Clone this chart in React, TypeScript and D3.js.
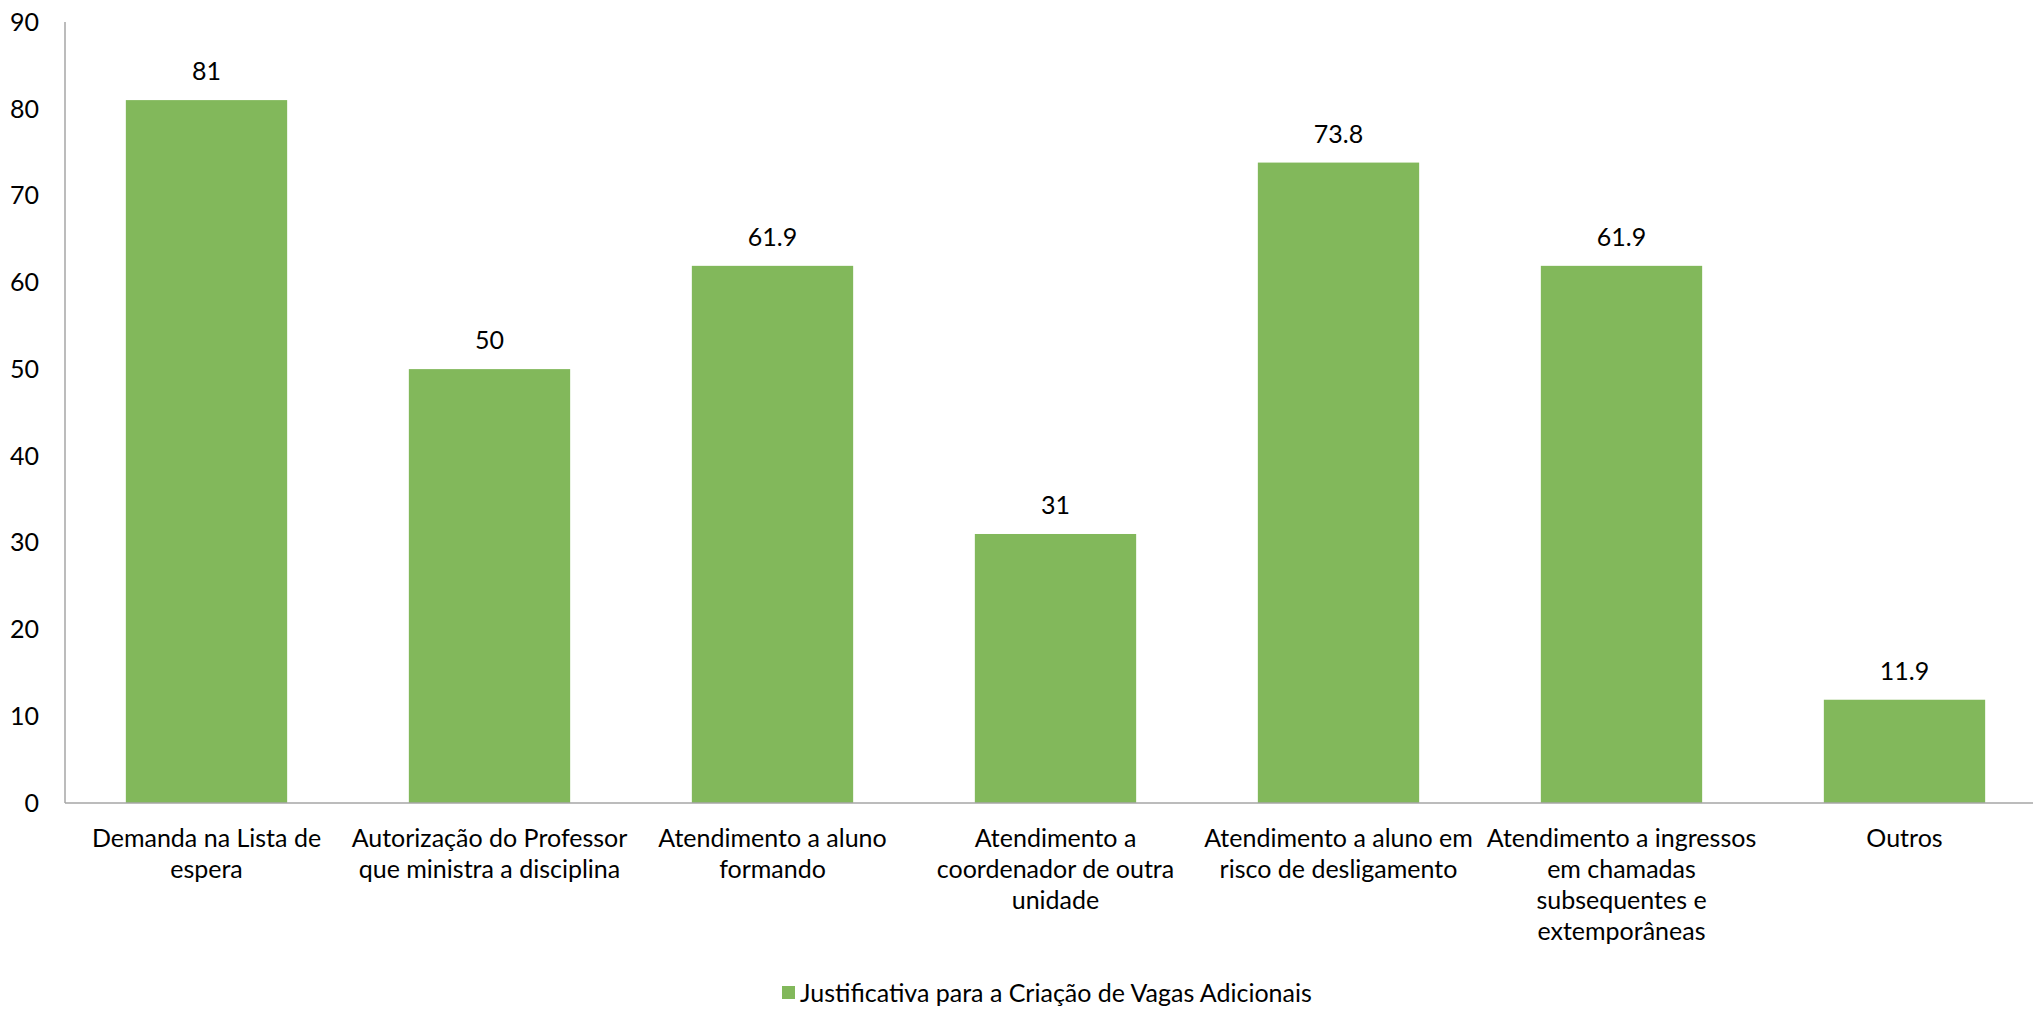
import { useEffect, useRef } from "react";
import * as d3 from "d3";

const categories = [
  "Demanda na Lista de\nespera",
  "Autorização do Professor\nque ministra a disciplina",
  "Atendimento a aluno\nformando",
  "Atendimento a\ncoordenador de outra\nunidade",
  "Atendimento a aluno em\nrisco de desligamento",
  "Atendimento a ingressos\nem chamadas\nsubsequentes e\nextemporâneas",
  "Outros",
];
const values = [81, 50, 61.9, 31, 73.8, 61.9, 11.9];
const yTicks = [0, 10, 20, 30, 40, 50, 60, 70, 80, 90];
const seriesName = "Justificativa para a Criação de Vagas Adicionais";

const App = () => {
  const ref = useRef<SVGSVGElement>(null);

  useEffect(() => {
    document.body.style.margin = "0";
    if (!ref.current) return;
    const svg = d3.select(ref.current);
    svg.selectAll("*").remove();

    const width = 2033;
    const height = 1010;
    const font = "Lato, 'Open Sans', sans-serif";
    const fontSize = 25;
    const barColor = "#82B85B";
    const axisColor = "#A6A6A6";

    const left = 65;
    const right = 2046;
    const top = 22;
    const bottom = 803;

    svg.attr("width", width).attr("height", height);

    const x = d3
      .scaleBand<number>()
      .domain(d3.range(categories.length))
      .range([left, right])
      .paddingInner(0.43)
      .paddingOuter(0.215);

    const y = d3.scaleLinear().domain([0, 90]).range([bottom, top]);

    // bars
    svg
      .append("g")
      .selectAll("rect")
      .data(values)
      .enter()
      .append("rect")
      .attr("x", (_d, i) => x(i)!)
      .attr("y", (d) => y(d))
      .attr("width", x.bandwidth())
      .attr("height", (d) => y(0) - y(d))
      .attr("fill", barColor);

    // axes lines
    svg
      .append("line")
      .attr("x1", left)
      .attr("x2", left)
      .attr("y1", top)
      .attr("y2", bottom)
      .attr("stroke", axisColor)
      .attr("stroke-width", 1.5);
    svg
      .append("line")
      .attr("x1", left)
      .attr("x2", width)
      .attr("y1", bottom)
      .attr("y2", bottom)
      .attr("stroke", axisColor)
      .attr("stroke-width", 1.5);

    // y tick labels
    svg
      .append("g")
      .selectAll("text")
      .data(yTicks)
      .enter()
      .append("text")
      .attr("x", 39)
      .attr("y", (d) => y(d))
      .attr("dy", "0.35em")
      .attr("text-anchor", "end")
      .attr("font-family", font)
      .attr("font-size", fontSize)
      .attr("fill", "#000")
      .text((d) => d);

    // data labels
    svg
      .append("g")
      .selectAll("text")
      .data(values)
      .enter()
      .append("text")
      .attr("x", (_d, i) => x(i)! + x.bandwidth() / 2)
      .attr("y", (d) => y(d) - 20)
      .attr("text-anchor", "middle")
      .attr("font-family", font)
      .attr("font-size", fontSize)
      .attr("fill", "#000")
      .text((d) => d);

    // category labels
    const catG = svg
      .append("g")
      .selectAll("text")
      .data(categories)
      .enter()
      .append("text")
      .attr("x", (_d, i) => x(i)! + x.bandwidth() / 2)
      .attr("y", 847)
      .attr("text-anchor", "middle")
      .attr("font-family", font)
      .attr("font-size", fontSize)
      .attr("fill", "#000");
    catG
      .selectAll("tspan")
      .data((d) => d.split("\n"))
      .enter()
      .append("tspan")
      .attr("x", function () {
        return (this as SVGTSpanElement).parentElement!.getAttribute("x");
      })
      .attr("dy", (_d, i) => (i === 0 ? 0 : 31))
      .text((d) => d);

    // legend
    const legend = svg.append("g").attr("transform", "translate(782, 993)");
    legend
      .append("rect")
      .attr("x", 0)
      .attr("y", -7)
      .attr("width", 13)
      .attr("height", 13)
      .attr("fill", barColor);
    legend
      .append("text")
      .attr("x", 18)
      .attr("y", 0)
      .attr("dy", "0.35em")
      .attr("font-family", font)
      .attr("font-size", fontSize)
      .attr("fill", "#000")
      .text(seriesName);
  }, []);

  return (
    <svg ref={ref} style={{ position: "absolute", left: 0, top: 0 }}></svg>
  );
};

export default App;
